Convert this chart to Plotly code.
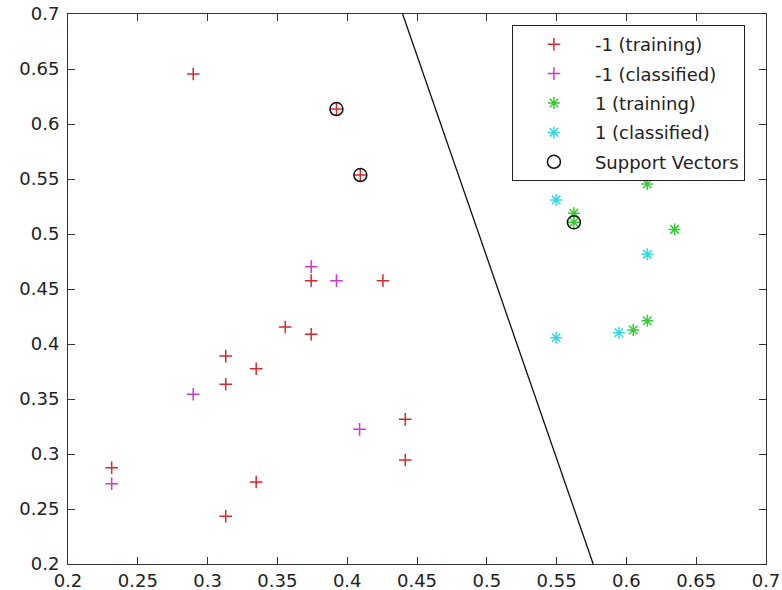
import plotly.graph_objects as go

# -1 (training)
train_neg_x = [0.2897, 0.2313, 0.3130, 0.3130, 0.3348, 0.3556, 0.3742, 0.3742, 0.4256, 0.4416, 0.4416, 0.3348, 0.3130, 0.3923, 0.4094]
train_neg_y = [0.6455, 0.2875, 0.3890, 0.3634, 0.3775, 0.4155, 0.4088, 0.4576, 0.4576, 0.3315, 0.2945, 0.2745, 0.2434, 0.6136, 0.5536]
# -1 (classified)
class_neg_x = [0.2313, 0.2897, 0.4089, 0.3923, 0.3742]
class_neg_y = [0.2730, 0.3543, 0.3224, 0.4576, 0.4703]
# 1 (training)
train_pos_x = [0.5624, 0.5624, 0.6149, 0.6345, 0.6049, 0.6150]
train_pos_y = [0.5188, 0.5106, 0.5455, 0.5042, 0.4127, 0.4212]
# 1 (classified)
class_pos_x = [0.5497, 0.6150, 0.5497, 0.5946]
class_pos_y = [0.5310, 0.4815, 0.4057, 0.4103]
# Support vectors
sv_x = [0.3923, 0.4094, 0.5624]
sv_y = [0.6136, 0.5536, 0.5106]
# Decision boundary
boundary_x = [0.4397, 0.5762]
boundary_y = [0.7, 0.2]

tick_vals = [0.2, 0.25, 0.3, 0.35, 0.4, 0.45, 0.5, 0.55, 0.6, 0.65, 0.7]
tick_text = ["0.2", "0.25", "0.3", "0.35", "0.4", "0.45", "0.5", "0.55", "0.6", "0.65", "0.7"]

RED = "#d42a2a"
MAG = "#cc3acc"
GRN = "#36cc36"
CYN = "#3ad8e0"
BLK = "#111111"


def mk(symbol, size, color):
    return dict(symbol=symbol, size=size, color=color, line=dict(color=color, width=1.5))


fig = go.Figure()
fig.add_trace(go.Scatter(x=boundary_x, y=boundary_y, mode="lines",
                         line=dict(color=BLK, width=1.3), showlegend=False, hoverinfo="skip"))
fig.add_trace(go.Scatter(x=train_neg_x, y=train_neg_y, mode="markers", name="-1 (training)",
                         legendgroup="a", marker=mk("cross-thin-open", 9, RED)))
fig.add_trace(go.Scatter(x=class_neg_x, y=class_neg_y, mode="markers", name="-1 (classified)",
                         legendgroup="b", marker=mk("cross-thin-open", 9, MAG)))
fig.add_trace(go.Scatter(x=train_pos_x, y=train_pos_y, mode="markers", name="1 (training)",
                         legendgroup="c", marker=mk("asterisk-open", 10, GRN)))
fig.add_trace(go.Scatter(x=class_pos_x, y=class_pos_y, mode="markers", name="1 (classified)",
                         legendgroup="d", marker=mk("asterisk-open", 10, CYN)))
fig.add_trace(go.Scatter(x=sv_x, y=sv_y, mode="markers", name="Support Vectors",
                         legendgroup="e", marker=mk("circle-open", 13, BLK)))

axis_common = dict(
    range=[0.2, 0.7], tickvals=tick_vals, ticktext=tick_text,
    showgrid=False, zeroline=False, showline=True, linecolor="#333333", linewidth=1,
    mirror="ticks", ticks="inside", ticklen=7, tickcolor="#333333", tickwidth=1,
    tickfont=dict(family="DejaVu Sans", size=18, color="#222222"),
    ticklabeloverflow="allow",
)

fig.update_layout(
    width=782, height=590,
    margin=dict(l=68, r=16, t=14, b=26, autoexpand=False),
    paper_bgcolor="white", plot_bgcolor="white",
    xaxis=dict(**axis_common, ticklabelstandoff=0),
    yaxis=dict(**axis_common, ticklabelstandoff=4),
    legend=dict(
        x=0.636, y=0.98, xanchor="left", yanchor="top",
        bgcolor="white", bordercolor="#222222", borderwidth=1,
        font=dict(family="DejaVu Sans", size=18, color="#222222"),
        tracegroupgap=3, itemwidth=72, entrywidth=242, entrywidthmode="pixels",
    ),
    showlegend=True,
)

fig.write_html("out.html", config={"displayModeBar": False},
               post_script="document.body.style.margin='0';")
